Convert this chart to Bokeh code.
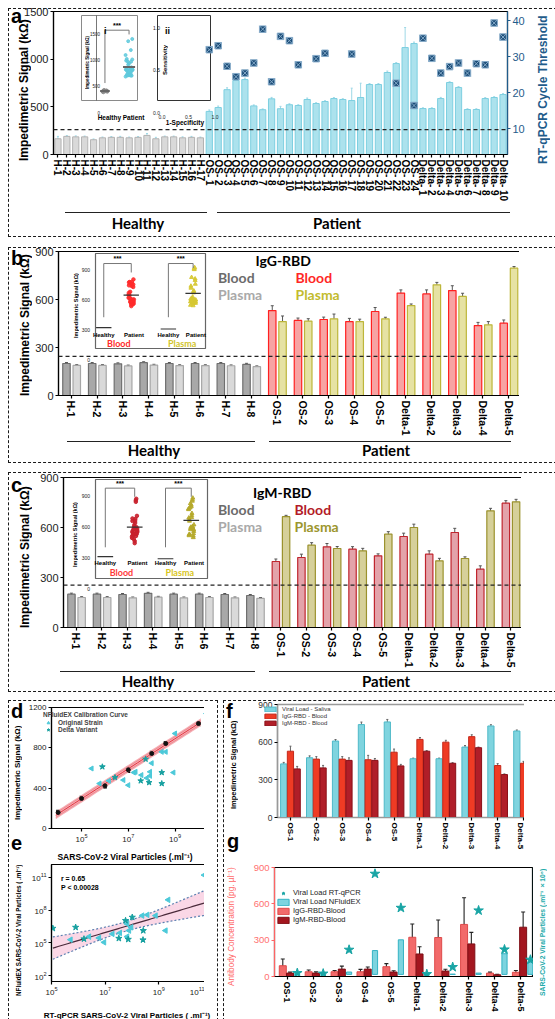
import numpy as np
from bokeh.plotting import figure
from bokeh.models import (Column, Div, FactorRange, Range1d, LinearAxis, Span, Whisker,
                          ColumnDataSource, FixedTicker, Legend, LegendItem)
from bokeh.transform import dodge
from bokeh.core.properties import value
from bokeh.embed import file_html
from bokeh.resources import INLINE

# ------------------------------------------------------------------ data
# panel a
names_healthy_a = ["H-%d" % i for i in range(1, 18)]
names_os_a = ["OS- %d" % i for i in range(1, 25)]
names_delta_a = ["Delta- %d" % i for i in range(1, 11)]
sig_healthy_a = [165, 190, 185, 185, 155, 175, 180, 180, 175, 180, 200, 165, 185, 185, 175, 180, 175]
err_healthy_a = [25, 8, 10, 8, 8, 8, 8, 10, 8, 8, 20, 15, 8, 8, 10, 10, 8]
sig_os_a = [452, 493, 680, 776, 786, 510, 470, 584, 480, 522, 514, 577, 535, 556, 587, 577,
            566, 598, 734, 734, 860, 954, 1122, 1164]
err_os_a = [15, 15, 20, 15, 15, 10, 8, 15, 25, 10, 8, 15, 8, 8, 10, 8, 130, 150, 10, 10, 15, 10, 210, 15]
sig_delta_a = [482, 482, 587, 755, 703, 472, 472, 587, 598, 629]
err_delta_a = [8, 8, 12, 8, 10, 8, 8, 10, 8, 10]
ct_healthy_a = [np.nan] * 17
ct_os_a = [31.9, 33.0, 27.3, 24.4, 25.4, 28.2, 37.6, 23.0, 35.6, 34.4, 27.7, np.nan, 29.4, 30.9,
           np.nan, np.nan, 30.7, np.nan, np.nan, np.nan, np.nan, 22.6, np.nan, 16.4]
ct_delta_a = [35.1, 29.5, 25.4, 27.2, 28.2, 25.4, 28.0, 27.7, 39.3, 35.4]
cutoff_a = 260
ticks_inset_i = [0, 500, 1000, 1500]
ticks_roc = [0.0, 0.5, 1.0]

# panels b, c
names_bc = ["H-%d" % i for i in range(1, 9)] + ["OS-%d" % i for i in range(1, 6)] + ["Delta-%d" % i for i in range(1, 6)]
igg_blood = [200, 200, 198, 205, 200, 200, 200, 195, 531, 469, 475, 462, 525, 640, 635, 656, 437, 452]
igg_blood_err = [6] * 8 + [30, 15, 15, 20, 25, 20, 25, 30, 20, 20]
igg_plasma = [188, 188, 185, 190, 187, 187, 186, 180, 462, 465, 479, 462, 479, 562, 692, 619, 442, 796]
igg_plasma_err = [5] * 8 + [35, 15, 30, 15, 10, 10, 15, 20, 20, 10]
igm_blood = [200, 200, 198, 205, 200, 200, 198, 192, 396, 420, 484, 470, 430, 546, 440, 570, 350, 746]
igm_blood_err = [6] * 8 + [15, 20, 20, 15, 12, 20, 20, 25, 20, 15]
igm_plasma = [180, 180, 178, 182, 178, 180, 178, 175, 665, 494, 474, 460, 560, 600, 400, 414, 700, 754]
igm_plasma_err = [5] * 8 + [8, 15, 12, 15, 15, 20, 15, 10, 15, 15]
cutoff_b = 245
cutoff_c = 254
ticks_inset_bc = [0, 300, 600, 900]

# panel d (exponents of viral particles / ml)
calib_logc = [4.0, 5.0, 6.0, 7.0, 8.0, 8.6, 10.0]
calib_sig = [159, 298, 423, 582, 744, 843, 1041]
calib_err = [20, 20, 20, 25, 20, 20, 20]
orig_d_logc = [5.43, 5.77, 6.17, 6.79, 7.0, 7.24, 7.31, 7.56, 7.79, 7.93, 8.0, 7.93, 8.43, 8.6, 8.93, 9.0, 10.34]
orig_d_sig = [595, 446, 473, 480, 430, 555, 562, 530, 500, 562, 648, 522, 760, 760, 555, 942, 1140]
delta_d_logc = [5.89, 6.43, 7.53, 7.74, 7.89, 8.43, 8.43]
delta_d_sig = [612, 506, 473, 688, 456, 555, 446]

# panel e (exponents)
orig_e_rt = [5.71, 6.4, 6.77, 6.96, 7.27, 7.55, 7.82, 7.82, 7.89, 7.97, 8.38, 8.57, 8.88, 9.25, 9.35, 10.69]
orig_e_nf = [5.3, 5.58, 5.46, 5.06, 5.83, 5.92, 6.74, 5.58, 6.13, 6.43, 7.5, 7.57, 7.5, 6.13, 8.94, 11.2]
delta_e_rt = [5.05, 5.9, 6.21, 7.51, 7.76, 7.86, 8.01, 8.42, 8.41]
delta_e_nf = [6.34, 6.43, 5.37, 5.42, 7.05, 5.33, 7.35, 6.13, 5.28]

# panels f, g
names_fg = ["OS-%d" % i for i in range(1, 6)] + ["Delta-%d" % i for i in range(1, 6)]
vl_saliva = [427, 476, 609, 740, 761, 468, 468, 561, 729, 689]
vl_saliva_err = [12, 15, 12, 20, 20, 5, 5, 12, 10, 8]
igg_f = [528, 465, 465, 460, 520, 622, 600, 644, 414, 432]
igg_f_err = [40, 20, 20, 35, 25, 15, 15, 15, 15, 15]
igm_f = [387, 395, 455, 455, 411, 528, 432, 556, 342, 742]
igm_f_err = [20, 20, 20, 15, 12, 5, 5, 5, 5, 5]
igg_conc = [89, 39, 39, 39, 81, 324, 322, 430, 28, 35]
igg_conc_err = [55, 15, 10, 20, 25, 110, 145, 220, 8, 15]
igm_conc = [28, 28, 61, 61, 37, 186, 45, 269, 14, 407]
igm_conc_err = [8, 10, 25, 18, 10, 60, 15, 95, 5, 125]
load_nfluidex = [0.02, 0.01, 0.09, 0.91, 1.32, 0.02, 0.01, 0.05, 0.79, 0.47]
load_rtqpcr = [0.05, 0.03, 0.94, 3.84, 2.54, 0.01, 0.28, 2.44, 0.95, 0.56]

# ------------------------------------------------------------------ helpers
ARIAL = "Liberation Sans"
CAL = "Lato"
items = []
JIT = [-0.12, 0.06, -0.03, 0.11, -0.08, 0.02, 0.09, -0.1, 0.0, 0.05, -0.05, 0.12, -0.02, 0.08,
       -0.11, 0.03, -0.07, 0.1, -0.04, 0.07]


def jit(n, s=1.0):
    return [JIT[i % len(JIT)] * s for i in range(n)]


def place(obj, left, top, extra=None):
    st = {"position": "absolute", "left": "%.1fpx" % left, "top": "%.1fpx" % top}
    if extra:
        st.update(extra)
    obj.styles = st
    items.append(obj)
    return obj


def dbox(x0, y0, x1, y1, border="1.3px dashed #1a1a1a"):
    d = Div(text="", width=int(x1 - x0), height=int(y1 - y0))
    place(d, x0, y0, {"border": border, "box-sizing": "border-box"})


def hline(x0, x1, y, lw=1.6):
    d = Div(text="", width=int(x1 - x0), height=2)
    place(d, x0, y, {"border-top": "%.1fpx solid #222" % lw, "box-sizing": "border-box"})


def tdiv(s, x, baseline, size, color="#000", weight="bold", family=ARIAL, align="left", w=None):
    if w is None:
        w = int(len(s) * size * 0.62) + 6
    top = baseline - 0.86 * size
    if align == "center":
        left = x - w / 2
    elif align == "right":
        left = x - w
    else:
        left = x
    html = ('<div style="font-family:\'%s\';font-size:%spx;font-weight:%s;color:%s;line-height:1;'
            'white-space:nowrap;text-align:%s;width:%dpx">%s</div>' % (family, size, weight, color, align, w, s))
    d = Div(text=html, width=w, height=int(size * 1.3) + 2)
    place(d, left, top)


def rdiv(s, cx, cy, size, color="#000", weight="bold", family=ARIAL, L=None):
    # vertical text reading bottom-to-top, centred on (cx, cy); the box itself is vertical
    if L is None:
        L = int(len(s) * size * 0.56) + 4
    t = int(size * 1.25) + 2
    html = ('<div style="font-family:\'%s\';font-size:%spx;font-weight:%s;color:%s;line-height:1;'
            'white-space:nowrap;writing-mode:vertical-rl;transform:rotate(180deg);text-align:center;'
            'width:%dpx;height:%dpx">%s</div>' % (family, size, weight, color, t, L, s))
    d = Div(text=html, width=t, height=L)
    place(d, cx - t / 2, cy - L / 2)


def fig(frame, ml, mr, mt, mb, **kw):
    x0, y0, x1, y1 = frame
    p = figure(frame_width=int(round(x1 - x0)), frame_height=int(round(y1 - y0)),
               min_border_left=ml, min_border_right=mr, min_border_top=mt,
               min_border_bottom=mb, output_backend="svg", toolbar_location=None, **kw)
    p.border_fill_color = None
    p.background_fill_color = "white"
    p.outline_line_color = "#000"
    p.outline_line_width = 1.2
    p.xgrid.visible = False
    p.ygrid.visible = False
    place(p, x0 - ml, y0 - mt)
    return p


def cat_axis(p, names, size):
    idx = list(range(len(names)))
    ax = p.xaxis[0]
    ax.ticker = FixedTicker(ticks=idx)
    ax.major_label_overrides = {i: n for i, n in zip(idx, names)}
    sty(ax, size, color="#000", bold=True)
    ax.major_label_orientation = "vertical"


def inset_ranges(main, box, xr, yr):
    """extra ranges of the main frame so that (xr, yr) fills the inset box (page px)"""
    mx0, my0, mx1, my1 = main
    bx0, by0, bx1, by1 = box
    sx = (xr[1] - xr[0]) / (bx1 - bx0)
    sy = (yr[1] - yr[0]) / (by1 - by0)
    return (Range1d(xr[0] - (bx0 - mx0) * sx, xr[1] + (mx1 - bx1) * sx),
            Range1d(yr[0] - (my1 - by1) * sy, yr[1] + (by0 - my0) * sy))


def yticks_div(frame, yr, ticks, x_right, size, fmt="%g"):
    x0, y0, x1, y1 = frame
    for t in ticks:
        yy = y1 - (t - yr[0]) / (yr[1] - yr[0]) * (y1 - y0)
        tdiv(fmt % t, x_right, yy + 0.36 * size, size, weight="normal", color="#222", align="right")


def sty(ax, size, color="#222", bold=False, lw=1.2, font=ARIAL):
    ax.major_label_text_font = font
    ax.major_label_text_font_size = "%spx" % size
    ax.major_label_text_font_style = "bold" if bold else "normal"
    ax.major_label_text_color = color
    ax.minor_tick_line_color = None
    ax.major_tick_in = 0
    ax.major_tick_out = 3
    ax.major_label_standoff = 2
    ax.axis_line_width = lw
    ax.major_tick_line_width = lw


def whisk(p, src, base, up, lo, color="#444", size=3, rn="default", lw=1):
    w = Whisker(source=src, base=base, upper=up, lower=lo, line_color=color, line_width=lw,
                y_range_name=rn)
    w.upper_head.size = size
    w.lower_head.size = size
    w.upper_head.line_color = color
    w.lower_head.line_color = color
    w.upper_head.line_width = lw
    w.lower_head.line_width = lw
    p.add_layout(w)


# ------------------------------------------------------------------ dashed panel boxes
dbox(3, 3, 552, 232)
dbox(3, 242, 552, 458)
dbox(3, 467, 552, 687)
dbox(3, 695, 213, 1016)
dbox(218, 695, 552, 1016)

# ------------------------------------------------------------------ panel a
main_a = (53, 11, 507, 154)
cats_a = names_healthy_a + names_os_a + names_delta_a
vals_a = sig_healthy_a + sig_os_a + sig_delta_a
errs_a = err_healthy_a + err_os_a + err_delta_a
ct_a = ct_healthy_a + ct_os_a + ct_delta_a
nh = len(names_healthy_a)
na = len(cats_a)
src_a = ColumnDataSource(dict(
    x=list(range(na)), v=vals_a, up=[v + e for v, e in zip(vals_a, errs_a)],
    lo=[v - e for v, e in zip(vals_a, errs_a)], ct=ct_a,
    fill=["#d9d9d9"] * nh + ["#ace2ed"] * (na - nh),
    line=["#b3b3b3"] * nh + ["#7dcfe0"] * (na - nh)))
pa = fig(main_a, 40, 24, 8, 58, x_range=Range1d(-0.5, na - 0.5), y_range=Range1d(0, 1500))
pa.vbar(x="x", top="v", width=0.7, fill_color="fill", line_color="line", line_width=1, source=src_a)
whisk(pa, src_a, "x", "up", "lo", color="#9fd8e6", size=2)
pa.add_layout(Span(location=cutoff_a, dimension="width", line_dash="4 3", line_color="#222", line_width=1.2))

# insets of panel a live in extra ranges of the main frame
box_i = (96, 15, 137, 100)
xr_i = (0.65, 2.35)
yr_i = (0, 1608)
box_ii = (157, 15, 210, 100)
xr_ii = (0, 1)
yr_ii = (0, 1.01)
ix, iy = inset_ranges(main_a, box_i, xr_i, yr_i)
iix, iiy = inset_ranges(main_a, box_ii, xr_ii, yr_ii)
pa.extra_x_ranges = {"ix": ix, "iix": iix}
pa.extra_y_ranges = {"ct": Range1d(2.8, 42.5), "iy": iy, "iiy": iiy}

sx_i = (xr_i[1] - xr_i[0]) / (box_i[2] - box_i[0])
KI = dict(x_range_name="ix", y_range_name="iy")
pa.quad(left=[xr_i[0] - (box_i[0] - 81) * sx_i], right=[xr_i[1]], bottom=[yr_i[0]], top=[yr_i[1]],
        fill_color="white", line_color="#8a8a8a", line_width=1, **KI)
pa.segment(x0=[xr_i[0]], y0=[yr_i[0]], x1=[xr_i[0]], y1=[yr_i[1]], line_color="#555", line_width=0.8, **KI)
pat_a = sig_os_a + sig_delta_a
pa.scatter([1 + j for j in jit(nh, 0.8)], sig_healthy_a, size=3, color="#8a8a8a", alpha=0.8, **KI)
pa.scatter([2 + j for j in jit(len(pat_a), 1.2)], pat_a, size=3, color="#5fc9dc", alpha=0.85, **KI)
pa.segment(x0=[0.8, 1.75], y0=[np.mean(sig_healthy_a), np.mean(pat_a)], x1=[1.2, 2.25],
           y1=[np.mean(sig_healthy_a), np.mean(pat_a)], line_color="#666", line_width=2, **KI)
pa.line([1, 1, 2, 2], [330, 1330, 1330, 1250], line_color="#777", line_width=1, **KI)
pa.text([1.5], [1420], text=["***"], text_font=value(ARIAL), text_font_size="7px", text_font_style="bold",
        text_align="center", text_baseline="middle", **KI)

KII = dict(x_range_name="iix", y_range_name="iiy")
pa.quad(left=[xr_ii[0]], right=[xr_ii[1]], bottom=[yr_ii[0]], top=[yr_ii[1]],
        fill_color="white", line_color="#333", line_width=1, **KII)

pa.scatter(x="x", y="ct", y_range_name="ct", marker="square_x", size=6.5, fill_color="#1d4e79",
           line_color="#86abc9", line_width=1, source=src_a)
ax_ct = LinearAxis(y_range_name="ct", ticker=FixedTicker(ticks=[10, 20, 30, 40]))
pa.add_layout(ax_ct, "right")
sty(ax_ct, 11, color="#1f5c8b")
ax_ct.axis_line_color = "#1f5c8b"
ax_ct.major_tick_line_color = "#1f5c8b"
pa.yaxis[0].ticker = FixedTicker(ticks=[0, 500, 1000, 1500])
sty(pa.yaxis[0], 11)
cat_axis(pa, cats_a, 10)
rdiv("Impedimetric Signal (kΩ)", 21, 85, 12)
rdiv("RT-qPCR Cycle Threshold", 540, 85, 12, color="#1f5c8b")

# texts of inset i
yticks_div(box_i, yr_i, ticks_inset_i, 95, 4.5)
rdiv("Impedimetric Signal (kΩ)", 84.5, 57, 4.5)
for k, lab in ((1, "Healthy"), (2, "Patient")):
    tdiv(lab, box_i[0] + (k - xr_i[0]) / (xr_i[1] - xr_i[0]) * (box_i[2] - box_i[0]), 109, 6.5, align="center")
tdiv("i", 99, 25, 9)
# texts of inset ii
yticks_div(box_ii, yr_ii, ticks_roc, 155, 5, fmt="%.1f")
for t in ticks_roc:
    tdiv("%.1f" % t, box_ii[0] + t * (box_ii[2] - box_ii[0]), 106, 5, weight="normal", color="#222", align="center")
tdiv("ii", 160, 25, 9)
rdiv("Sensitivity", 161, 55, 6)
tdiv("1-Specificity", 180, 114, 6.5, align="center")

hline(60, 202, 207)
hline(212, 505, 207)
tdiv("Healthy", 133, 224, 15, family=CAL, align="center")
tdiv("Patient", 332, 224, 15, family=CAL, align="center")
tdiv("a", 6, 18, 20)


# ------------------------------------------------------------------ panels b, c
def build_bc(frame, blood, berr, plasma, perr, cb, cp, cutoff, box, yr, xs, ptc, ttc, lab_y, grp_y, br, star_y):
    n = len(names_bc)
    idx = list(range(n))
    src = ColumnDataSource(dict(
        xb=[i - 0.19 for i in idx], xp=[i + 0.21 for i in idx], b=blood, p=plasma,
        bu=[v + e for v, e in zip(blood, berr)], bl=[v - e for v, e in zip(blood, berr)],
        pu=[v + e for v, e in zip(plasma, perr)], pl=[v - e for v, e in zip(plasma, perr)],
        bf=["#a8a8a8"] * 8 + [cb[0]] * (n - 8), bline=["#6f6f6f"] * 8 + [cb[1]] * (n - 8),
        pf=["#d9d9d9"] * 8 + [cp[0]] * (n - 8), pline=["#a6a6a6"] * 8 + [cp[1]] * (n - 8)))
    p = fig(frame, 32, 6, 4, 48, x_range=Range1d(-0.5, n - 0.5), y_range=Range1d(0, 900))
    p.vbar(x="xb", top="b", width=0.29, fill_color="bf", line_color="bline", line_width=1.2, source=src)
    p.vbar(x="xp", top="p", width=0.29, fill_color="pf", line_color="pline", line_width=1.2, source=src)
    whisk(p, src, "xb", "bu", "bl", color="#555", size=3)
    whisk(p, src, "xp", "pu", "pl", color="#555", size=3)
    p.add_layout(Span(location=cutoff, dimension="width", line_dash="4 3", line_color="#222", line_width=1.2))
    p.yaxis[0].ticker = FixedTicker(ticks=[0, 300, 600, 900])
    sty(p.yaxis[0], 11)
    cat_axis(p, names_bc, 10.5)

    # inset drawn in extra ranges of this frame
    xr = (0, 4)
    jx, jy = inset_ranges(frame, box, xr, yr)
    p.extra_x_ranges = {"jx": jx}
    p.extra_y_ranges = {"jy": jy}
    K = dict(x_range_name="jx", y_range_name="jy")
    p.quad(left=[xr[0]], right=[xr[1]], bottom=[yr[0]], top=[yr[1]], fill_color="white",
           line_color="#666", line_width=1.2, **K)
    hb, pb_, hp, pp = xs
    pat_b = blood[8:]
    pat_p = plasma[8:]
    rb = pat_b + [v + e for v, e in zip(pat_b, berr[8:])] + [v - e for v, e in zip(pat_b, berr[8:])]
    rp = pat_p + [v + e for v, e in zip(pat_p, perr[8:])] + [v - e for v, e in zip(pat_p, perr[8:])]
    p.scatter([pb_ + j for j in jit(len(rb), 0.8)], rb, size=3.5, color=ptc[0], alpha=0.9, **K)
    p.scatter([pp + j for j in jit(len(rp), 0.8)], rp, size=4, marker="triangle", color=ptc[1], alpha=0.9, **K)
    mh_b, mh_p = np.mean(blood[:8]), np.mean(plasma[:8])
    p.segment(x0=[hb - 0.28, hp - 0.28, pb_ - 0.28, pp - 0.28], y0=[mh_b, mh_p, np.mean(rb), np.mean(rp)],
              x1=[hb + 0.28, hp + 0.28, pb_ + 0.28, pp + 0.28], y1=[mh_b, mh_p, np.mean(rb), np.mean(rp)],
              line_color="#333", line_width=1.2, **K)
    for (a, b_, r) in ((hb, pb_, br[2]), (hp, pp, br[3])):
        p.line([a, a, b_, b_], [br[0], br[1], br[1], r], line_color="#777", line_width=1, **K)
        p.text([(a + b_) / 2], [star_y], text=["***"], text_font=value(ARIAL), text_font_size="7px",
               text_font_style="bold", text_align="center", text_baseline="middle", **K)
    p.text([hb, pb_ + 0.1, hp, pp + 0.1], [lab_y] * 4, text=["Healthy", "Patient", "Healthy", "Patient"],
           text_font=value(ARIAL), text_font_size="6px", text_font_style="bold", text_align="center",
           text_baseline="middle", **K)
    p.text([(hb + pb_) / 2 + 0.05, (hp + pp) / 2 + 0.05], [grp_y] * 2, text=["Blood", "Plasma"],
           text_font=value(CAL), text_font_size="9px", text_font_style="bold", text_align="center",
           text_baseline="middle", text_color=list(ttc), **K)
    yticks_div(box, yr, ticks_inset_bc, box[0] - 2, 5)
    return p


pb = build_bc((50, 251, 513, 395), igg_blood, igg_blood_err, igg_plasma, igg_plasma_err,
              ("#f7a3a3", "#ff2020"), ("#e6e2a3", "#bdb63a"), cutoff_b,
              (87, 253, 197, 348), (-10, 947), (0.3, 1.3, 2.65, 3.55), ("#ff2a2a", "#d6c832"),
              ("#ff2a2a", "#d2c42c"), 125, 40, (305, 846, 756, 800), 895)
rdiv("Impedimetric Signal (kΩ)", 22, 320, 12)
rdiv("Impedimetric Signal (kΩ)", 73, 300, 5.5)
tdiv("IgG-RBD", 250.5, 261, 14, family=CAL)
tdiv("Blood", 213, 278, 14, family=CAL, color="#6b6b6b")
tdiv("Plasma", 213, 295, 14, family=CAL, color="#a9a9a9")
tdiv("Blood", 290.5, 278, 14, family=CAL, color="#ff2626")
tdiv("Plasma", 290.5, 295, 14, family=CAL, color="#c2bb2e")
hline(62, 250, 436)
hline(264, 506, 436)
tdiv("Healthy", 149, 451, 15, family=CAL, align="center")
tdiv("Patient", 381, 451, 15, family=CAL, align="center")
tdiv("b", 6, 260, 20)

pc = build_bc((55, 477, 515, 627), igm_blood, igm_blood_err, igm_plasma, igm_plasma_err,
              ("#e3a3aa", "#c0252e"), ("#d6d09a", "#9b922e"), cutoff_c,
              (87, 479, 199, 578), (-13, 948), (0.35, 1.4, 2.5, 3.42), ("#c8202c", "#b5a82a"),
              ("#ff3a3a", "#d8c520"), 133, 47, (290, 864, 780, 780), 905)
rdiv("Impedimetric Signal (kΩ)", 22, 552, 12)
rdiv("Impedimetric Signal (kΩ)", 72, 529, 5.5)
tdiv("IgM-RBD", 248, 493, 14, family=CAL)
tdiv("Blood", 213, 510, 14, family=CAL, color="#6b6b6b")
tdiv("Plasma", 213, 527, 14, family=CAL, color="#a9a9a9")
tdiv("Blood", 289.5, 510, 14, family=CAL, color="#b31b28")
tdiv("Plasma", 289.5, 527, 14, family=CAL, color="#9c962e")
hline(55, 250, 666)
hline(264, 506, 666)
tdiv("Healthy", 143, 682, 15, family=CAL, align="center")
tdiv("Patient", 381, 682, 15, family=CAL, align="center")
tdiv("c", 6, 487, 20)

# ------------------------------------------------------------------ panel d
pd_ = fig((39, 707, 200, 828), 28, 4, 4, 20, x_axis_type="log",
          x_range=Range1d(10 ** 3.715, 10 ** 10.6), y_range=Range1d(0, 1200))
slope_d, icpt_d = np.polyfit(calib_logc, calib_sig, 1)
fx = np.linspace(calib_logc[0] - 0.1, calib_logc[-1] + 0.1, 40)
fy = slope_d * fx + icpt_d
pd_.varea(x=10 ** fx, y1=fy - 38, y2=fy + 38, fill_color="#f4a6ad", fill_alpha=0.9)
pd_.line(10 ** fx, fy, line_color="#e3323e", line_width=1)
pd_.line(10 ** fx, fy + 20, line_color="#ea6b74", line_width=0.6)
pd_.line(10 ** fx, fy - 20, line_color="#ea6b74", line_width=0.6)
r_o = pd_.scatter(10 ** np.array(orig_d_logc), orig_d_sig, marker="triangle", angle=np.pi / 2, size=5,
                  color="#4cc9d9")
r_d = pd_.scatter(10 ** np.array(delta_d_logc), delta_d_sig, marker="star", size=6, color="#16a0a0")
src_d = ColumnDataSource(dict(x=10 ** np.array(calib_logc), y=calib_sig,
                              u=[a + b for a, b in zip(calib_sig, calib_err)],
                              l=[a - b for a, b in zip(calib_sig, calib_err)]))
whisk(pd_, src_d, "x", "u", "l", color="#111", size=4, lw=1.2)
pd_.scatter("x", "y", size=4, color="#111", source=src_d)
leg_d = Legend(items=[LegendItem(label="Original Strain", renderers=[r_o]),
                      LegendItem(label="Delta Variant", renderers=[r_d])],
               title="NFluidEX Calibration Curve", location="top_left")
leg_d.title_text_font = ARIAL
leg_d.title_text_font_size = "6.5px"
leg_d.title_text_font_style = "bold"
leg_d.label_text_font = ARIAL
leg_d.label_text_font_size = "6.5px"
leg_d.label_text_font_style = "bold"
leg_d.glyph_height = 7
leg_d.glyph_width = 10
leg_d.label_height = 7
leg_d.spacing = 0
leg_d.padding = 3
leg_d.margin = 4
leg_d.title_standoff = 1
leg_d.border_line_color = None
leg_d.background_fill_alpha = 0
pd_.add_layout(leg_d)
pd_.xaxis[0].ticker = FixedTicker(ticks=[1e5, 1e7, 1e9])
sty(pd_.xaxis[0], 8)
pd_.yaxis[0].ticker = FixedTicker(ticks=[0, 400, 800, 1200])
sty(pd_.yaxis[0], 8)
rdiv("Impedimetric Signal (kΩ)", 15, 767, 8)
tdiv("SARS-CoV-2 Viral Particles (.ml⁻¹)", 120, 850, 8.5, align="center", w=180)
tdiv("d", 6, 713, 20)

# ------------------------------------------------------------------ panel e
pe = fig((39, 864, 200, 981), 28, 4, 6, 20, x_axis_type="log", y_axis_type="log",
         x_range=Range1d(1e5, 1e11), y_range=Range1d(10 ** 1.48, 10 ** 12.17))
lx = np.array(orig_e_rt + delta_e_rt)
ly = np.array(orig_e_nf + delta_e_nf)
sl, ic = np.polyfit(lx, ly, 1)
n_e = len(lx)
res = ly - (sl * lx + ic)
s_e = np.sqrt(np.sum(res ** 2) / (n_e - 2))
sxx = np.sum((lx - lx.mean()) ** 2)
ex = np.linspace(5.05, 10.75, 60)
ey = sl * ex + ic
ci = 2.06 * s_e * np.sqrt(1.0 / n_e + (ex - lx.mean()) ** 2 / sxx)
pe.varea(x=10 ** ex, y1=10 ** (ey - ci), y2=10 ** (ey + ci), fill_color="#f9d3e3", fill_alpha=0.9)
pe.line(10 ** ex, 10 ** (ey + ci), line_color="#5a7fb0", line_dash="2 2", line_width=1.2)
pe.line(10 ** ex, 10 ** (ey - ci), line_color="#5a7fb0", line_dash="2 2", line_width=1.2)
pe.line(10 ** ex, 10 ** ey, line_color="#4a2a3a", line_width=1.2)
pe.scatter(10 ** np.array(orig_e_rt), 10 ** np.array(orig_e_nf), marker="triangle", angle=np.pi / 2,
           size=5.5, color="#4cc9d9")
pe.scatter(10 ** np.array(delta_e_rt), 10 ** np.array(delta_e_nf), marker="star", size=6.5, color="#16a0a0")
pe.text([10 ** 5.35, 10 ** 5.35], [10 ** 10.9, 10 ** 10.1], text=["r = 0.65", "P < 0.00028"],
        text_font=value(ARIAL), text_font_size="7px", text_font_style="bold", text_baseline="middle")
pe.xaxis[0].ticker = FixedTicker(ticks=[1e5, 1e7, 1e9, 1e11])
sty(pe.xaxis[0], 8)
pe.yaxis[0].ticker = FixedTicker(ticks=[1e2, 1e5, 1e8, 1e11])
sty(pe.yaxis[0], 8)
rdiv("NFluidEX SARS-CoV-2 Viral Particles ( .ml⁻¹)", 15, 925, 6.3)
tdiv("RT-qPCR SARS-CoV-2 Viral Particles ( .ml⁻¹)", 122, 1008, 8, align="center", w=200)
tdiv("e", 6, 845, 20)

# ------------------------------------------------------------------ panel f
src_f = ColumnDataSource(dict(
    x=names_fg, vl=vl_saliva, gg=igg_f, gm=igm_f,
    vu=[a + b for a, b in zip(vl_saliva, vl_saliva_err)], vlo=[a - b for a, b in zip(vl_saliva, vl_saliva_err)],
    gu=[a + b for a, b in zip(igg_f, igg_f_err)], glo=[a - b for a, b in zip(igg_f, igg_f_err)],
    mu=[a + b for a, b in zip(igm_f, igm_f_err)], mlo=[a - b for a, b in zip(igm_f, igm_f_err)]))
pf = fig((261, 704, 520, 817), 24, 4, 6, 38, x_range=FactorRange(factors=names_fg), y_range=Range1d(0, 900))
pf.outline_line_color = "#999"
pf.outline_line_width = 1.6
rv = pf.vbar(x=dodge("x", -0.26, range=pf.x_range), top="vl", width=0.24, fill_color="#7fd4df",
             line_color="#4fb9c8", source=src_f)
rg = pf.vbar(x=dodge("x", 0.0, range=pf.x_range), top="gg", width=0.24, fill_color="#ef3b24",
             line_color="#c4281a", source=src_f)
rm = pf.vbar(x=dodge("x", 0.26, range=pf.x_range), top="gm", width=0.24, fill_color="#b01e28",
             line_color="#8a1018", source=src_f)
whisk(pf, src_f, dodge("x", -0.26, range=pf.x_range), "vu", "vlo", color="#666", size=2)
whisk(pf, src_f, dodge("x", 0.0, range=pf.x_range), "gu", "glo", color="#666", size=2)
whisk(pf, src_f, dodge("x", 0.26, range=pf.x_range), "mu", "mlo", color="#666", size=2)
leg_f = Legend(items=[LegendItem(label="Viral Load - Saliva", renderers=[rv]),
                      LegendItem(label="IgG-RBD - Blood", renderers=[rg]),
                      LegendItem(label="IgM-RBD - Blood", renderers=[rm])], location="top_left")
leg_f.label_text_font = ARIAL
leg_f.label_text_font_size = "6px"
leg_f.label_text_color = "#333"
leg_f.glyph_height = 6
leg_f.glyph_width = 14
leg_f.label_height = 6
leg_f.spacing = 1
leg_f.padding = 2
leg_f.margin = 2
leg_f.border_line_color = None
leg_f.background_fill_alpha = 0
pf.add_layout(leg_f)
pf.yaxis[0].ticker = FixedTicker(ticks=[0, 300, 600, 900])
sty(pf.yaxis[0], 8.5, color="#333")
pf.yaxis[0].axis_line_color = "#999"
sty(pf.xaxis[0], 8, color="#000", bold=True)
pf.xaxis[0].axis_line_color = "#999"
pf.xaxis[0].major_label_orientation = "vertical"
rdiv("Impedimetric Signal (kΩ)", 230, 760, 7.5)
tdiv("f", 221, 713, 20)

# ------------------------------------------------------------------ panel g
src_g = ColumnDataSource(dict(
    x=names_fg, gg=igg_conc, gm=igm_conc, nf=load_nfluidex, rt=load_rtqpcr,
    gu=[a + b for a, b in zip(igg_conc, igg_conc_err)], glo=[a - b for a, b in zip(igg_conc, igg_conc_err)],
    mu=[a + b for a, b in zip(igm_conc, igm_conc_err)], mlo=[a - b for a, b in zip(igm_conc, igm_conc_err)]))
pg = fig((258, 867, 517, 976), 24, 16, 8, 38, x_range=FactorRange(factors=names_fg), y_range=Range1d(0, 900))
pg.extra_y_ranges = {"vl": Range1d(-0.08, 4.08)}
g1 = pg.vbar(x=dodge("x", -0.18, range=pg.x_range), top="gg", width=0.27, fill_color="#f26a6a",
             line_color="#de4a4a", source=src_g)
g2 = pg.vbar(x=dodge("x", 0.1, range=pg.x_range), top="gm", width=0.27, fill_color="#a3161f",
             line_color="#7e0f16", source=src_g)
g3 = pg.vbar(x=dodge("x", 0.38, range=pg.x_range), top="nf", bottom=0, width=0.2, fill_color="#7dd4df",
             line_color="#35b3c4", y_range_name="vl", source=src_g)
whisk(pg, src_g, dodge("x", -0.18, range=pg.x_range), "gu", "glo", color="#222", size=4, lw=1.1)
whisk(pg, src_g, dodge("x", 0.1, range=pg.x_range), "mu", "mlo", color="#222", size=4, lw=1.1)
g4 = pg.scatter(x=dodge("x", 0.38, range=pg.x_range), y="rt", y_range_name="vl", marker="star", size=10,
                color="#19a5a5", source=src_g)
leg_g = Legend(items=[LegendItem(label="Viral Load RT-qPCR", renderers=[g4]),
                      LegendItem(label="Viral Load NFluidEX", renderers=[g3]),
                      LegendItem(label="IgG-RBD-Blood", renderers=[g1]),
                      LegendItem(label="IgM-RBD-Blood", renderers=[g2])], location=(2, 52))
leg_g.label_text_font = ARIAL
leg_g.label_text_font_size = "7.5px"
leg_g.label_text_color = "#222"
leg_g.glyph_height = 8
leg_g.glyph_width = 14
leg_g.label_height = 8
leg_g.spacing = 0
leg_g.padding = 2
leg_g.label_standoff = 3
leg_g.border_line_color = None
leg_g.background_fill_alpha = 0
pg.add_layout(leg_g)
ax_vl = LinearAxis(y_range_name="vl", ticker=FixedTicker(ticks=[0, 1, 2, 3, 4]))
pg.add_layout(ax_vl, "right")
sty(ax_vl, 8.5, color="#22aaaa")
ax_vl.axis_line_color = "#22aaaa"
ax_vl.major_tick_line_color = "#22aaaa"
pg.yaxis[0].ticker = FixedTicker(ticks=[0, 300, 600, 900])
sty(pg.yaxis[0], 9.5, color="#ff7070")
pg.yaxis[0].axis_line_color = "#ff6464"
pg.yaxis[0].major_tick_line_color = "#ff6464"
sty(pg.xaxis[0], 9, color="#000", bold=True)
pg.xaxis[0].major_label_orientation = "vertical"
rdiv("Antibody Concentration (pg. µl⁻¹)", 229, 921, 8.2, color="#ff6464", weight="normal")
rdiv("SARS-CoV-2 Viral Particles (.ml⁻¹ ×10⁸)", 540, 927, 6.8, color="#22aaaa")
tdiv("g", 222, 843, 20)

# ------------------------------------------------------------------ page
root = Column(children=items, width=553, height=1018, sizing_mode="fixed",
              styles={"position": "relative"})
open("out.html", "w").write(file_html(root, INLINE))
